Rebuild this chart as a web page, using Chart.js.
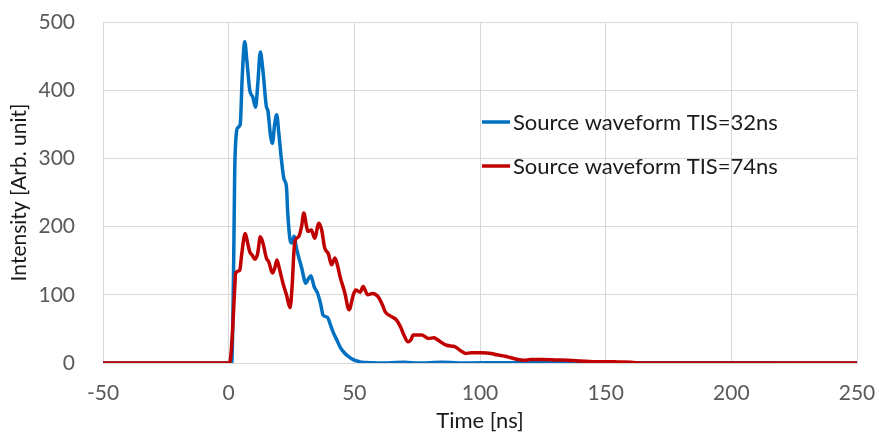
<!DOCTYPE html>
<html>
<head>
<meta charset="utf-8">
<title>Source waveform</title>
<script src="https://cdn.jsdelivr.net/npm/chart.js@4.4.1/dist/chart.umd.min.js"></script>
<style>
  html, body { margin: 0; padding: 0; background: #fff; }
  #wrap { width: 879px; height: 437px; position: relative; }
</style>
</head>
<body>
<div id="wrap"><canvas id="wave"></canvas></div>
<script>
// ── Data ─────────────────────────────────────
const seriesNames = ['Source waveform TIS=32ns', 'Source waveform TIS=74ns'];

// TIS = 32 ns
const time32 = [-50, 0, 1.2, 2.0, 2.4, 3.0, 3.6, 4.6, 5.4, 6.4, 7.2, 8.4, 9.6, 10.7, 11.6, 12.6, 13.6,
    15.0, 15.6, 16.6, 17.4, 18.3, 19.1, 20.0, 21.0, 22.0, 23.0, 23.5, 24.6, 25.2, 26.0, 27.0, 27.8,
    29.0, 30.7, 31.5, 32.7, 34.0, 35.3, 36.5, 37.6, 39.3, 40.5, 41.6, 43.0, 44.4, 46.0, 47.5, 49.5,
    51.0, 53.0, 56.0, 60.0, 70.0, 75.0, 85.0, 95.0, 110.0, 250];
const intensity32 = [0, 0, 0, 150, 280, 335, 345, 350, 420, 471, 445, 400, 390, 375, 410, 456, 430,
    376, 370, 335, 322, 350, 364, 335, 298, 270, 258, 220, 178, 176, 186, 168, 156,
    140, 117, 122, 128, 112, 103, 88, 70, 67, 56, 45, 34, 23, 15, 10, 5,
    3, 1, 0.5, 0, 1, 0, 1, 0, 0.5, 0];

// TIS = 74 ns
const time74 = [-50, 0.3, 0.8, 1.6, 2.4, 2.8, 4.4, 5.2, 6.6, 7.6, 8.4, 9.4, 10.4, 11.5, 12.6, 13.7,
    15.0, 16.0, 17.4, 18.4, 19.2, 20.2, 21.6, 23.0, 24.4, 25.2, 26.0, 26.5, 27.8, 29.0, 29.9, 31.0,
    31.5, 32.9, 34.2, 35.9, 37.0, 38.2, 39.7, 40.9, 42.3, 43.5, 44.3, 46.2, 47.9, 49.6, 50.6, 52.3,
    53.5, 55.3, 57.3, 59.5, 61.2, 62.3, 64.8, 66.8, 68.5, 69.5, 71.4, 72.5, 73.4, 76.8, 79.4, 81.7,
    82.7, 86.7, 90.0, 92.3, 94.3, 96.5, 100.5, 104.5, 106.7, 110.0, 112.0, 115.0, 117.8, 120.0, 125.0,
    130.0, 135.0, 140.0, 145.0, 150.0, 155.0, 160.0, 165.0, 250];
const intensity74 = [0, 0, 8, 50, 110, 132, 136, 160, 190, 175, 163, 158, 152, 160, 185, 175,
    154, 148, 132, 140, 151, 138, 117, 100, 81, 110, 165, 180, 185, 200, 220, 200,
    193, 195, 183, 205, 195, 169, 160, 144, 154, 140, 127, 103, 78, 100, 107, 104,
    112, 100, 102, 97, 85, 75, 68, 63, 52, 43, 31, 34, 41, 41, 36, 37,
    35, 26, 24, 18, 14, 15, 15, 14, 12, 10, 8, 5, 4, 5, 5,
    4.5, 4, 3, 2, 2, 1.5, 1, 0, 0];

const xTicks = [-50, 0, 50, 100, 150, 200, 250];
const colors = ['#0070C0', '#C00000'];

// ── Helpers ──────────────────────────────────
const FONT = 'Lato, "Open Sans", sans-serif';
function pts(xs, ys) { return xs.map((x, i) => ({ x, y: ys[i] })); }

// legend drawn inside the plot, Excel style
const insideLegend = {
    id: 'insideLegend',
    afterDraw(chart) {
        const ctx = chart.ctx;
        const rows = [{ y: 122, i: 0 }, { y: 166, i: 1 }];
        ctx.save();
        ctx.font = '22px ' + FONT;
        ctx.textBaseline = 'middle';
        ctx.lineCap = 'butt';
        rows.forEach(r => {
            ctx.strokeStyle = colors[r.i];
            ctx.lineWidth = 3.5;
            ctx.beginPath();
            ctx.moveTo(482, r.y);
            ctx.lineTo(510, r.y);
            ctx.stroke();
            ctx.fillStyle = '#1a1a1a';
            ctx.fillText(seriesNames[r.i], 513, r.y + 1);
        });
        ctx.restore();
    }
};

function lineSet(i, xs, ys, order) {
    return {
        label: seriesNames[i],
        data: pts(xs, ys),
        borderColor: colors[i],
        borderWidth: 3.5,
        borderJoinStyle: 'round',
        borderCapStyle: 'round',
        pointRadius: 0,
        cubicInterpolationMode: 'monotone',
        order,
    };
}

// the outer layout padding alone places the plot box
function noScalePadding(s) {
    s.paddingTop = 0; s.paddingBottom = 0;
    s.paddingLeft = 0; s.paddingRight = 0;
}

// ── Chart ────────────────────────────────────
new Chart(document.getElementById('wave'), {
    type: 'line',
    data: {
        datasets: [
            lineSet(0, time32, intensity32, 1),
            lineSet(1, time74, intensity74, 0),   // red drawn on top
        ],
    },
    options: {
        responsive: true,
        maintainAspectRatio: false,
        animation: false,
        layout: { padding: { top: 22, right: 22, bottom: 0, left: 0 } },
        plugins: { legend: { display: false }, tooltip: { enabled: false } },
        scales: {
            x: {
                type: 'linear',
                min: -50,
                max: 250,
                afterBuildTicks: s => { s.ticks = xTicks.map(v => ({ value: v })); },
                afterFit: s => { s.height = 74; noScalePadding(s); },
                grid: { color: '#d9d9d9', drawTicks: false },
                border: { color: '#d9d9d9' },
                ticks: { color: '#595959', padding: 18, font: { family: FONT, size: 21 } },
                title: {
                    display: true,
                    text: 'Time [ns]',
                    color: '#1a1a1a',
                    padding: { top: 0, bottom: 3 },
                    font: { family: FONT, size: 22 },
                },
            },
            y: {
                min: 0,
                max: 500,
                afterFit: s => { s.width = 103; noScalePadding(s); },
                grid: { color: '#d9d9d9', drawTicks: false },
                border: { color: '#d9d9d9' },
                ticks: { stepSize: 100, color: '#595959', padding: 28, font: { family: FONT, size: 21 } },
                title: {
                    display: true,
                    text: 'Intensity [Arb. unit]',
                    color: '#1a1a1a',
                    padding: { top: 7, bottom: 0 },
                    font: { family: FONT, size: 21 },
                },
            },
        },
    },
    plugins: [insideLegend],
});
</script>
</body>
</html>
